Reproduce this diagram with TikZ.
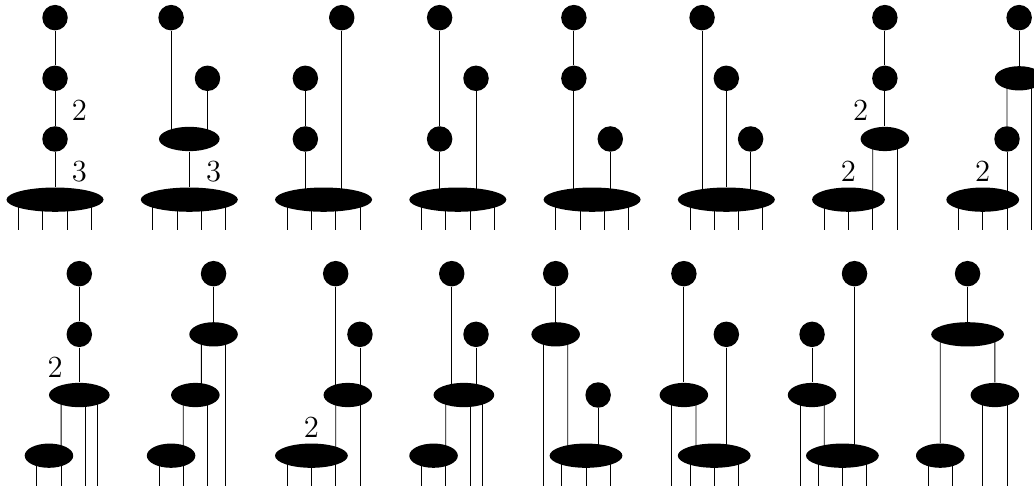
\documentclass[tikz,border=0pt]{standalone}
\usepackage{tikz}
\usetikzlibrary{shapes.geometric}

\begin{document}
\begin{tikzpicture}[
  bead/.style={circle, fill, inner sep=0pt, minimum size=4.2mm},
  blob/.style={ellipse, fill, inner sep=0pt, minimum height=4mm, minimum width=#1},
  blob/.default=16mm,
  lbl/.style={font=\Large, inner sep=0pt}
]
\clip (0,0) rectangle (17.043,8.011);

% top row
\begin{scope}[shift={(0.907,4.22)}]
\node[bead] (u1a) at (0,3.5) {};
\node[bead] (u1b) at (0,2.5) {};
\node[bead] (u1c) at (0,1.5) {};
\node[blob] (u1d) at (0,0.5) {};
\node[lbl] (u1x) at (0.4,1.97) {2};
\node[lbl] (u1y) at (0.4,0.97) {3};
\draw (u1a) -- (u1b) -- (u1c) -- (u1d);
\foreach \dx in {-6,-2,2,6} \draw ([xshift=\dx mm]u1d.center) -- ++(0,-0.5);
\end{scope}

\begin{scope}[shift={(3.120,4.22)}]
\node[bead] (u2a) at (-0.3,3.5) {};
\node[bead] (u2b) at (0.3,2.5) {};
\node[blob=10mm] (u2c) at (0,1.5) {};
\node[blob] (u2d) at (0,0.5) {};
\node[lbl] (u2y) at (0.4,0.97) {3};
\draw (u2a) -- (u2a |- u2c);
\draw (u2b) -- (u2b |- u2c);
\draw (u2c) -- (u2d);
\foreach \dx in {-6,-2,2,6} \draw ([xshift=\dx mm]u2d.center) -- ++(0,-0.5);
\end{scope}

\begin{scope}[shift={(5.333,4.22)}]
\node[bead] (u3a) at (0.3,3.5) {};
\node[bead] (u3b) at (-0.3,2.5) {};
\node[bead] (u3c) at (-0.3,1.5) {};
\node[blob] (u3d) at (0,0.5) {};
\draw (u3a) -- (u3a |- u3d);
\draw (u3b) -- (u3c) -- (u3c |- u3d);
\foreach \dx in {-6,-2,2,6} \draw ([xshift=\dx mm]u3d.center) -- ++(0,-0.5);
\end{scope}

\begin{scope}[shift={(7.546,4.22)}]
\node[bead] (u4a) at (-0.3,3.5) {};
\node[bead] (u4b) at (0.3,2.5) {};
\node[bead] (u4c) at (-0.3,1.5) {};
\node[blob] (u4d) at (0,0.5) {};
\draw (u4a) -- (u4c) -- (u4c |- u4d);
\draw (u4b) -- (u4b |- u4d);
\foreach \dx in {-6,-2,2,6} \draw ([xshift=\dx mm]u4d.center) -- ++(0,-0.5);
\end{scope}

\begin{scope}[shift={(9.759,4.22)}]
\node[bead] (u5a) at (-0.3,3.5) {};
\node[bead] (u5b) at (-0.3,2.5) {};
\node[bead] (u5c) at (0.3,1.5) {};
\node[blob] (u5d) at (0,0.5) {};
\draw (u5a) -- (u5b) -- (u5b |- u5d);
\draw (u5c) -- (u5c |- u5d);
\foreach \dx in {-6,-2,2,6} \draw ([xshift=\dx mm]u5d.center) -- ++(0,-0.5);
\end{scope}

\begin{scope}[shift={(11.972,4.22)}]
\node[bead] (u6a) at (-0.4,3.5) {};
\node[bead] (u6b) at (0,2.5) {};
\node[bead] (u6c) at (0.4,1.5) {};
\node[blob] (u6d) at (0,0.5) {};
\draw (u6a) -- (u6a |- u6d);
\draw (u6b) -- (u6d);
\draw (u6c) -- (u6c |- u6d);
\foreach \dx in {-6,-2,2,6} \draw ([xshift=\dx mm]u6d.center) -- ++(0,-0.5);
\end{scope}

\begin{scope}[shift={(14.185,4.22)}]
\node[bead] (u7a) at (0.4,3.5) {};
\node[bead] (u7b) at (0.4,2.5) {};
\node[blob=8mm] (u7c) at (0.4,1.5) {};
\node[blob=12mm] (u7d) at (-0.2,0.5) {};
\node[lbl] (u7x) at (0,1.97) {2};
\node[lbl] (u7y) at (-0.2,0.97) {2};
\draw (u7a) -- (u7b) -- (u7c);
\draw ([xshift=-2mm]u7c.center) -- ([xshift=4mm]u7d.center);
\draw ([xshift=2mm]u7c.center) -- ++(0,-1.5);
\foreach \dx in {-4,0,4} \draw ([xshift=\dx mm]u7d.center) -- ++(0,-0.5);
\end{scope}

\begin{scope}[shift={(16.398,4.22)}]
\node[bead] (u8a) at (0.4,3.5) {};
\node[blob=8mm] (u8b) at (0.4,2.5) {};
\node[bead] (u8c) at (0.2,1.5) {};
\node[blob=12mm] (u8d) at (-0.2,0.5) {};
\node[lbl] (u8y) at (-0.2,0.97) {2};
\draw (u8a) -- (u8b);
\draw ([xshift=-2mm]u8b.center) -- (u8c);
\draw (u8c) -- (u8c |- u8d);
\draw ([xshift=2mm]u8b.center) -- ++(0,-2.5);
\foreach \dx in {-4,0,4} \draw ([xshift=\dx mm]u8d.center) -- ++(0,-0.5);
\end{scope}

% bottom row
\begin{scope}[shift={(0.907,0)}]
\node[bead] (v1a) at (0.4,3.5) {};
\node[bead] (v1b) at (0.4,2.5) {};
\node[blob=10mm] (v1c) at (0.4,1.5) {};
\node[blob=8mm] (v1d) at (-0.1,0.5) {};
\node[lbl] (v1x) at (0,1.96) {2};
\draw (v1a) -- (v1b) -- (v1c);
\draw ([xshift=-3mm]v1c.center) -- ([xshift=2mm]v1d.center);
\foreach \dx in {1,3} \draw ([xshift=\dx mm]v1c.center) -- ++(0,-1.5);
\foreach \dx in {-2,2} \draw ([xshift=\dx mm]v1d.center) -- ++(0,-0.5);
\end{scope}

\begin{scope}[shift={(3.120,0)}]
\node[bead] (v2a) at (0.4,3.5) {};
\node[blob=8mm] (v2b) at (0.4,2.5) {};
\node[blob=8mm] (v2c) at (0.1,1.5) {};
\node[blob=8mm] (v2d) at (-0.3,0.5) {};
\draw (v2a) -- (v2b);
\draw ([xshift=-2mm]v2b.center) -- ([xshift=1mm]v2c.center);
\draw ([xshift=2mm]v2b.center) -- ++(0,-2.5);
\draw ([xshift=-2mm]v2c.center) -- ([xshift=2mm]v2d.center);
\draw ([xshift=2mm]v2c.center) -- ++(0,-1.5);
\foreach \dx in {-2,2} \draw ([xshift=\dx mm]v2d.center) -- ++(0,-0.5);
\end{scope}

\begin{scope}[shift={(5.333,0)}]
\node[bead] (v3a) at (0.2,3.5) {};
\node[bead] (v3b) at (0.6,2.5) {};
\node[blob=8mm] (v3c) at (0.4,1.5) {};
\node[blob=12mm] (v3d) at (-0.2,0.5) {};
\node[lbl] (v3y) at (-0.2,0.96) {2};
\draw (v3a) -- (v3a |- v3c);
\draw (v3b) -- (v3b |- v3c);
\draw ([xshift=-2mm]v3c.center) -- ([xshift=4mm]v3d.center);
\draw ([xshift=2mm]v3c.center) -- ++(0,-1.5);
\foreach \dx in {-4,0,4} \draw ([xshift=\dx mm]v3d.center) -- ++(0,-0.5);
\end{scope}

\begin{scope}[shift={(7.546,0)}]
\node[bead] (v4a) at (-0.1,3.5) {};
\node[bead] (v4b) at (0.3,2.5) {};
\node[blob=10mm] (v4c) at (0.1,1.5) {};
\node[blob=8mm] (v4d) at (-0.4,0.5) {};
\draw (v4a) -- (v4a |- v4c);
\draw (v4b) -- (v4b |- v4c);
\draw ([xshift=-3mm]v4c.center) -- ([xshift=2mm]v4d.center);
\foreach \dx in {1,3} \draw ([xshift=\dx mm]v4c.center) -- ++(0,-1.5);
\foreach \dx in {-2,2} \draw ([xshift=\dx mm]v4d.center) -- ++(0,-0.5);
\end{scope}

\begin{scope}[shift={(9.759,0)}]
\node[bead] (v5a) at (-0.6,3.5) {};
\node[blob=8mm] (v5b) at (-0.6,2.5) {};
\node[bead] (v5c) at (0.1,1.5) {};
\node[blob=12mm] (v5d) at (-0.1,0.5) {};
\draw (v5a) -- (v5b);
\draw ([xshift=-2mm]v5b.center) -- ++(0,-2.5);
\draw ([xshift=2mm]v5b.center) -- ([xshift=-3mm]v5d.center);
\draw (v5c) -- (v5c |- v5d);
\foreach \dx in {-4,0,4} \draw ([xshift=\dx mm]v5d.center) -- ++(0,-0.5);
\end{scope}

\begin{scope}[shift={(11.972,0)}]
\node[bead] (v6a) at (-0.7,3.5) {};
\node[bead] (v6b) at (0,2.5) {};
\node[blob=8mm] (v6c) at (-0.7,1.5) {};
\node[blob=12mm] (v6d) at (-0.2,0.5) {};
\draw (v6a) -- (v6c);
\draw ([xshift=-2mm]v6c.center) -- ++(0,-1.5);
\draw ([xshift=2mm]v6c.center) -- ([xshift=-3mm]v6d.center);
\draw (v6b) -- (v6b |- v6d);
\foreach \dx in {-4,0,4} \draw ([xshift=\dx mm]v6d.center) -- ++(0,-0.5);
\end{scope}

\begin{scope}[shift={(14.185,0)}]
\node[bead] (v7a) at (-0.1,3.5) {};
\node[bead] (v7b) at (-0.8,2.5) {};
\node[blob=8mm] (v7c) at (-0.8,1.5) {};
\node[blob=12mm] (v7d) at (-0.3,0.5) {};
\draw (v7b) -- (v7c);
\draw ([xshift=-2mm]v7c.center) -- ++(0,-1.5);
\draw ([xshift=2mm]v7c.center) -- ([xshift=-3mm]v7d.center);
\draw (v7a) -- (v7a |- v7d);
\foreach \dx in {-4,0,4} \draw ([xshift=\dx mm]v7d.center) -- ++(0,-0.5);
\end{scope}

\begin{scope}[shift={(16.398,0)}]
\node[bead] (v8a) at (-0.45,3.5) {};
\node[blob=12mm] (v8b) at (-0.45,2.5) {};
\node[blob=8mm] (v8c) at (0,1.5) {};
\node[blob=8mm] (v8d) at (-0.9,0.5) {};
\draw (v8a) -- (v8b);
\draw ([xshift=-4.5mm]v8b.center) -- (v8d);
\draw ([xshift=4.5mm]v8b.center) -- (v8c);
\foreach \dx in {-2,2} \draw ([xshift=\dx mm]v8c.center) -- ++(0,-1.5);
\foreach \dx in {-2,2} \draw ([xshift=\dx mm]v8d.center) -- ++(0,-0.5);
\end{scope}
\end{tikzpicture}
\end{document}
